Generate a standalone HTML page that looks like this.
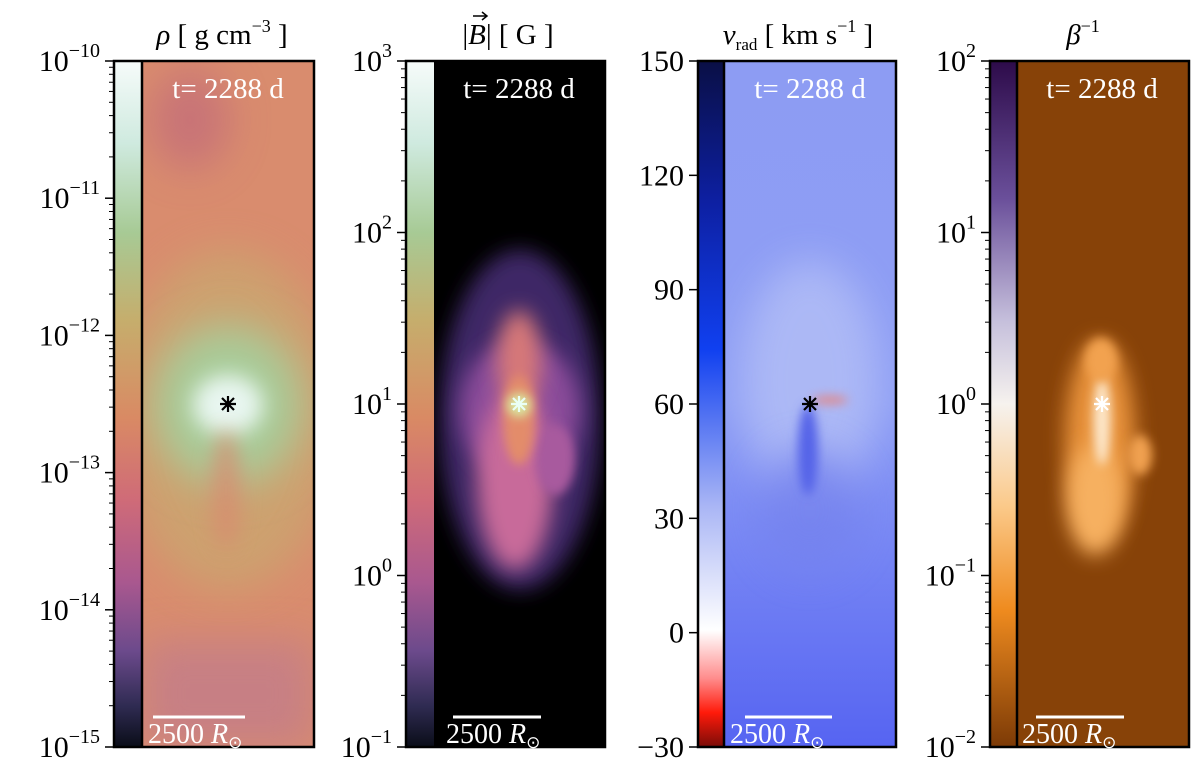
<!DOCTYPE html>
<html><head><meta charset="utf-8"><style>
html,body{margin:0;padding:0;background:#fff;}
svg{display:block;font-family:"Liberation Serif",serif;}
</style></head><body>
<svg id="fig" width="1200" height="766" viewBox="0 0 1200 766">
<defs>
  <linearGradient id="cmRho" x1="0" y1="0" x2="0" y2="1">
    <stop offset="0" stop-color="#f6fbfa"/><stop offset="0.12" stop-color="#cfeadf"/>
    <stop offset="0.25" stop-color="#a7ca95"/><stop offset="0.38" stop-color="#c6ad6c"/>
    <stop offset="0.52" stop-color="#d98a64"/><stop offset="0.64" stop-color="#cf6b78"/>
    <stop offset="0.76" stop-color="#a9588f"/><stop offset="0.86" stop-color="#6c4a8c"/>
    <stop offset="0.94" stop-color="#2f2b52"/><stop offset="1" stop-color="#0a0d18"/>
  </linearGradient>
  <linearGradient id="cmV" x1="0" y1="0" x2="0" y2="1">
    <stop offset="0" stop-color="#0a0f45"/><stop offset="0.2" stop-color="#0d1fa0"/>
    <stop offset="0.42" stop-color="#1040f0"/><stop offset="0.65" stop-color="#aab6f5"/>
    <stop offset="0.83" stop-color="#ffffff"/><stop offset="0.9" stop-color="#ff8c8c"/>
    <stop offset="0.95" stop-color="#ff1a0a"/><stop offset="1" stop-color="#7a0c08"/>
  </linearGradient>
  <linearGradient id="cmBeta" x1="0" y1="0" x2="0" y2="1">
    <stop offset="0" stop-color="#2d0b4a"/><stop offset="0.2" stop-color="#6a4f9a"/>
    <stop offset="0.38" stop-color="#c6c0dc"/><stop offset="0.5" stop-color="#f6f2ee"/>
    <stop offset="0.65" stop-color="#fbc989"/><stop offset="0.8" stop-color="#ef8b1f"/>
    <stop offset="1" stop-color="#7c3a06"/>
  </linearGradient>
  <linearGradient id="vbg" x1="0" y1="0" x2="0" y2="1">
    <stop offset="0" stop-color="#8d9cf3"/><stop offset="0.5" stop-color="#8e9ef5"/><stop offset="1" stop-color="#5664f2"/>
  </linearGradient>
  <filter id="b20" filterUnits="userSpaceOnUse" x="0" y="0" width="1200" height="766"><feGaussianBlur stdDeviation="20"/></filter>
  <filter id="b10" filterUnits="userSpaceOnUse" x="0" y="0" width="1200" height="766"><feGaussianBlur stdDeviation="10"/></filter>
  <filter id="b5" filterUnits="userSpaceOnUse" x="0" y="0" width="1200" height="766"><feGaussianBlur stdDeviation="5"/></filter>
  <clipPath id="c1"><rect x="142" y="61" width="172" height="686"/></clipPath>
  <clipPath id="c2"><rect x="434" y="61" width="171" height="686"/></clipPath>
  <clipPath id="c3"><rect x="724" y="61" width="172" height="686"/></clipPath>
  <clipPath id="c4"><rect x="1017" y="61" width="172" height="686"/></clipPath>
  <g id="star"><path d="M-8 0H8M0 -8V8M-6 -6L6 6M-6 6L6 -6" stroke-width="2.2"/></g>
</defs>

<!-- Panel 1: density -->
<g>
  <rect x="114" y="61" width="28" height="686" fill="url(#cmRho)"/>
  <g clip-path="url(#c1)">
    <rect x="142" y="61" width="172" height="686" fill="#d98c6e"/>
    <ellipse cx="190" cy="120" rx="40" ry="50" fill="#b85c80" filter="url(#b20)" opacity="0.5"/>
    <rect x="142" y="640" width="172" height="107" fill="#c07a8e" filter="url(#b20)" opacity="0.7"/>
    <ellipse cx="228" cy="420" rx="110" ry="170" fill="#c9a870" filter="url(#b20)" opacity="0.75"/>
    <ellipse cx="228" cy="405" rx="75" ry="80" fill="#a8cc9a" filter="url(#b20)"/>
    <ellipse cx="228" cy="405" rx="35" ry="30" fill="#e8f6f0" filter="url(#b10)"/>
    <ellipse cx="226" cy="490" rx="15" ry="60" fill="#d98a70" filter="url(#b10)" opacity="0.7"/>
  </g>
  <rect x="114" y="61" width="200" height="686" fill="none" stroke="#000" stroke-width="2.5"/>
  <line x1="142" y1="61" x2="142" y2="747" stroke="#000" stroke-width="2.5"/>
  <use href="#star" x="228" y="404" stroke="#000"/>
  <text x="228" y="98" font-size="29" text-anchor="middle" fill="#fff">t= 2288 d</text>
  <line x1="153" y1="717" x2="245" y2="717" stroke="#fff" stroke-width="3"/>
  <text x="148" y="743" font-size="28" fill="#fff">2500 <tspan font-style="italic">R</tspan><tspan font-size="17" dy="5">⊙</tspan></text>
  <text x="222" y="44" font-size="29" text-anchor="middle"><tspan font-style="italic">ρ</tspan> [ g cm<tspan font-size="18" dy="-12">−3</tspan><tspan dy="12"> ]</tspan></text>
  <g id="ax1"></g>
</g>

<!-- Panel 2: B field -->
<g>
  <rect x="406" y="61" width="28" height="686" fill="url(#cmRho)"/>
  <g clip-path="url(#c2)">
    <rect x="434" y="61" width="171" height="686" fill="#000"/>
    <ellipse cx="520" cy="420" rx="80" ry="170" fill="#4a2f78" filter="url(#b10)" opacity="0.85"/>
    <ellipse cx="520" cy="410" rx="60" ry="70" fill="#8a4c9a" filter="url(#b10)"/>
    <ellipse cx="515" cy="480" rx="38" ry="90" fill="#c86a9a" filter="url(#b10)"/>
    <ellipse cx="555" cy="460" rx="20" ry="35" fill="#a85a9e" filter="url(#b5)"/>
    <ellipse cx="519" cy="360" rx="22" ry="50" fill="#d67878" filter="url(#b10)"/>
    <ellipse cx="519" cy="420" rx="16" ry="45" fill="#e38c6a" filter="url(#b5)"/>
    <ellipse cx="519" cy="405" rx="12" ry="12" fill="#d8e8a0" filter="url(#b5)"/>
  </g>
  <rect x="406" y="61" width="199" height="686" fill="none" stroke="#000" stroke-width="2.5"/>
  <use href="#star" x="519" y="404" stroke="#eafff5"/>
  <text x="519" y="98" font-size="29" text-anchor="middle" fill="#fff">t= 2288 d</text>
  <line x1="453" y1="717" x2="541" y2="717" stroke="#fff" stroke-width="3"/>
  <text x="446" y="743" font-size="28" fill="#fff">2500 <tspan font-style="italic">R</tspan><tspan font-size="17" dy="5">⊙</tspan></text>
  <text x="508" y="44" font-size="29" text-anchor="middle">|<tspan font-style="italic">B</tspan>| [ G ]</text>
  <path d="M473 16H486M482 12L487 16L482 20" stroke="#000" stroke-width="1.5" fill="none"/>
  <g id="ax2"></g>
</g>

<!-- Panel 3: radial velocity -->
<g>
  <rect x="698" y="61" width="26" height="686" fill="url(#cmV)"/>
  <g clip-path="url(#c3)">
    <rect x="724" y="61" width="172" height="686" fill="url(#vbg)"/>
    <ellipse cx="810" cy="380" rx="70" ry="120" fill="#b4bff6" filter="url(#b20)" opacity="0.8"/>
    <ellipse cx="810" cy="510" rx="50" ry="60" fill="#7482ee" filter="url(#b20)" opacity="0.8"/>
    <ellipse cx="808" cy="450" rx="10" ry="45" fill="#5564e8" filter="url(#b5)"/>
    <ellipse cx="830" cy="400" rx="18" ry="4" fill="#f07a6a" filter="url(#b5)" opacity="0.8"/>
  </g>
  <rect x="698" y="61" width="198" height="686" fill="none" stroke="#000" stroke-width="2.5"/>
  <line x1="724" y1="61" x2="724" y2="747" stroke="#000" stroke-width="2.5"/>
  <use href="#star" x="810" y="404" stroke="#000"/>
  <text x="810" y="98" font-size="29" text-anchor="middle" fill="#fff">t= 2288 d</text>
  <line x1="745" y1="717" x2="832" y2="717" stroke="#fff" stroke-width="3"/>
  <text x="730" y="743" font-size="28" fill="#fff">2500 <tspan font-style="italic">R</tspan><tspan font-size="17" dy="5">⊙</tspan></text>
  <text x="798" y="44" font-size="29" text-anchor="middle"><tspan font-style="italic">v</tspan><tspan font-size="17" dy="6">rad</tspan><tspan dy="-6"> [ km s</tspan><tspan font-size="18" dy="-12">−1</tspan><tspan dy="12"> ]</tspan></text>
  <g id="ax3"></g>
</g>

<!-- Panel 4: inverse beta -->
<g>
  <rect x="990" y="61" width="27" height="686" fill="url(#cmBeta)"/>
  <g clip-path="url(#c4)">
    <rect x="1017" y="61" width="172" height="686" fill="#874208"/>
    <ellipse cx="1100" cy="440" rx="35" ry="100" fill="#e8923a" filter="url(#b10)"/>
    <ellipse cx="1095" cy="500" rx="28" ry="55" fill="#f6b060" filter="url(#b10)"/>
    <ellipse cx="1140" cy="455" rx="12" ry="20" fill="#f0a050" filter="url(#b5)"/>
    <ellipse cx="1102" cy="420" rx="9" ry="45" fill="#fde6c8" filter="url(#b5)"/>
    <ellipse cx="1101" cy="360" rx="16" ry="22" fill="#f2a250" filter="url(#b5)"/>
  </g>
  <rect x="990" y="61" width="199" height="686" fill="none" stroke="#000" stroke-width="2.5"/>
  <line x1="1017" y1="61" x2="1017" y2="747" stroke="#000" stroke-width="2.5"/>
  <use href="#star" x="1102" y="404" stroke="#fff"/>
  <text x="1102" y="98" font-size="29" text-anchor="middle" fill="#fff">t= 2288 d</text>
  <line x1="1036" y1="717" x2="1124" y2="717" stroke="#fff" stroke-width="3"/>
  <text x="1022" y="743" font-size="28" fill="#fff">2500 <tspan font-style="italic">R</tspan><tspan font-size="17" dy="5">⊙</tspan></text>
  <text x="1083" y="44" font-size="29" text-anchor="middle"><tspan font-style="italic">β</tspan><tspan font-size="18" dy="-12">−1</tspan></text>
  <g id="ax4"></g>
</g>
</svg>
<script>
const rhoExps = [-10, -11, -12, -13, -14, -15];
const bExps = [3, 2, 1, 0, -1];
const vradTicks = [150, 120, 90, 60, 30, 0, -30];
const betaExps = [2, 1, 0, -1, -2];

const NS = "http://www.w3.org/2000/svg";
const TOP = 61, BOT = 747;
function mk(tag, attrs, parent) {
  const e = document.createElementNS(NS, tag);
  for (const k in attrs) e.setAttribute(k, attrs[k]);
  parent.appendChild(e);
  return e;
}
function logAxis(gid, exps, barX) {
  const g = document.getElementById(gid);
  const hi = exps[0], lo = exps[exps.length - 1];
  const y = v => TOP + (hi - v) / (hi - lo) * (BOT - TOP);
  exps.forEach(ex => {
    const yy = y(ex);
    const t = mk('line', {x1: barX - 9, x2: barX, y1: yy, y2: yy, stroke: '#000', 'stroke-width': 1.5}, g);
    
    
    const tx = mk('text', {x: barX - 14, y: yy + 10, 'font-size': 30, 'text-anchor': 'end'}, g);
    
    
    tx.textContent = '10';
    const sp = mk('tspan', {'font-size': 20, dy: -14}, tx);
    sp.textContent = ex < 0 ? '−' + (-ex) : String(ex);
    if (ex !== lo) {
      for (let m = 2; m <= 9; m++) {
        const my = y(ex - 1 + Math.log10(m));
        const mt = mk('line', {x1: barX - 5, x2: barX, y1: my, y2: my, stroke: '#000', 'stroke-width': 1}, g);
        
        
      }
    }
  });
}
function linAxis(gid, vals, barX) {
  const g = document.getElementById(gid);
  const hi = vals[0], lo = vals[vals.length - 1];
  const y = v => TOP + (hi - v) / (hi - lo) * (BOT - TOP);
  vals.forEach(v => {
    const yy = y(v);
    const t = mk('line', {x1: barX - 9, x2: barX, y1: yy, y2: yy, stroke: '#000', 'stroke-width': 1.5}, g);
    
    
    const tx = mk('text', {x: barX - 14, y: yy + 10, 'font-size': 30, 'text-anchor': 'end'}, g);
    
    
    tx.textContent = v < 0 ? '−' + (-v) : String(v);
  });
}
logAxis('ax1', rhoExps, 114);
logAxis('ax2', bExps, 406);
linAxis('ax3', vradTicks, 698);
logAxis('ax4', betaExps, 990);
</script>
</body></html>
